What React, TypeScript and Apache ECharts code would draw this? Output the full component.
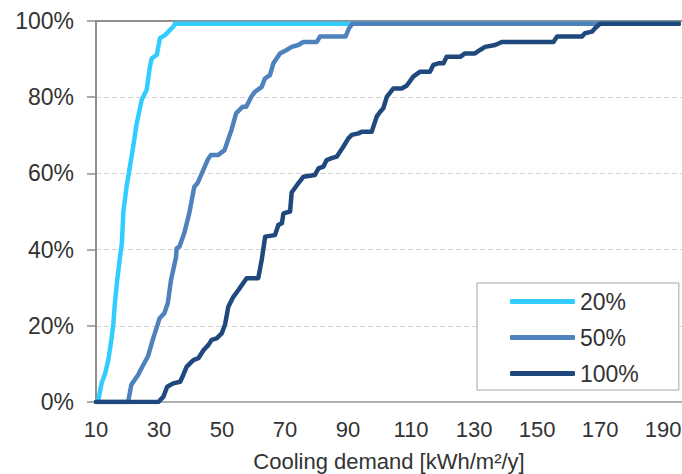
import React, { useEffect, useRef } from "react";
import * as echarts from "echarts";

const SERIES_NAMES = ["20%", "50%", "100%"];
const SERIES_COLORS = ["#33CCFF", "#4F81BD", "#1F497D"];
const X_TICKS = [10, 30, 50, 70, 90, 110, 130, 150, 170, 190];
const Y_TICKS = [0, 20, 40, 60, 80, 100];
const X_TITLE = "Cooling demand [kWh/m²/y]";

// [cooling demand, cumulative share %]
const curve20: [number, number][] = [
  [10, 0], [10.6, 0], [11.8, 5], [12.9, 7.5], [13.9, 11], [15, 17], [15.5, 20.5],
  [16, 26], [16.6, 31], [17.6, 38], [18.2, 41.5], [18.7, 50], [19.7, 56.5],
  [20.8, 62], [21.8, 67], [22.9, 73], [24.5, 79.3], [26.1, 82], [27.1, 88],
  [27.7, 90.2], [29.3, 91.1], [30.3, 95.5], [31.9, 96.3], [33, 97.2],
  [34.5, 98.5], [35.1, 99.3], [195, 99.3],
];

const curve50: [number, number][] = [
  [10, 0], [20.2, 0], [21.2, 4.5], [23.3, 7], [24.4, 8.8], [26.5, 12], [28, 16.3],
  [30.2, 22], [31.7, 23.3], [32.8, 26], [33.8, 32], [35.4, 38], [35.6, 40.3],
  [36.5, 40.8], [38, 44.3], [39.6, 49.5], [41.2, 56.5], [42.2, 57.4], [43.8, 60.4],
  [45.4, 63.5], [46.4, 64.8], [48.7, 64.8], [50.8, 66.1], [51.9, 68.8], [53, 71.4],
  [54.5, 75.8], [56.6, 77.5], [57.7, 77.5], [59.3, 80.1], [60.4, 81.4], [62.6, 82.7],
  [63.6, 84.9], [65.2, 85.8], [66.3, 88.9], [68.4, 91.5], [70.5, 92.4], [72.1, 93.2],
  [74.2, 93.7], [75.8, 94.5], [80.1, 94.5], [81.1, 95.9], [89.2, 95.9], [90.3, 98.1],
  [91.4, 99.3], [195, 99.3],
];

const curve100: [number, number][] = [
  [10, 0], [29.8, 0], [31.4, 1.4], [32.6, 4], [34.5, 4.9], [36.7, 5.3], [37.7, 7.1],
  [38.8, 9.3], [40.9, 11], [42.5, 11.5], [44.1, 13.6], [45.7, 15], [46.7, 16.3],
  [48.3, 16.7], [49.9, 18], [51, 20.5], [52, 25], [53.6, 27.6], [55.2, 29.4],
  [57.8, 32.5], [61.5, 32.5], [62.6, 37.3], [63.7, 43.4], [66.8, 43.8], [67.9, 46.5],
  [69, 46.9], [69.5, 49.5], [71.6, 50], [72.1, 55], [74.2, 57.4], [75.8, 59.1],
  [79.5, 59.6], [80.6, 61.3], [82.2, 61.8], [83.2, 63.5], [84.8, 64], [86.4, 64.4],
  [88.5, 67], [90.1, 69.2], [91.2, 70.1], [93.3, 70.5], [94.3, 70.9], [97.5, 70.9],
  [99.1, 74.9], [100.2, 76.2], [101.2, 77.1], [102.3, 80.1], [104.4, 82.3], [107, 82.3],
  [108.6, 83], [110.7, 85.4], [112.9, 86.7], [116, 86.7], [117.1, 88.5], [118.7, 88.9],
  [120.3, 88.9], [121.3, 90.6], [125.6, 90.6], [127.1, 91.5], [130.3, 91.5],
  [131.9, 92.4], [133.5, 93.2], [136.7, 93.7], [138.8, 94.5], [155.2, 94.5],
  [156.3, 95.9], [164.2, 95.9], [165.2, 96.8], [167.4, 97.2], [168.4, 98.1],
  [170, 99.3], [195, 99.3],
];

const CURVES = [curve20, curve50, curve100];

const FONT = "'Liberation Sans', Arial, sans-serif";
const TEXT_COLOR = "#333333";

export default function App() {
  const ref = useRef<HTMLDivElement>(null);

  useEffect(() => {
    if (!ref.current) return;
    const chart = echarts.init(ref.current, undefined, { renderer: "svg" });
    const xMin = X_TICKS[0];
    const xStep = X_TICKS[1] - X_TICKS[0];
    chart.setOption({
      animation: false,
      backgroundColor: "#ffffff",
      textStyle: { fontFamily: FONT },
      grid: { left: 96, right: 0, top: 21, bottom: 72, containLabel: false, outerBoundsMode: "none" },
      legend: {
        data: SERIES_NAMES,
        orient: "vertical",
        left: 477,
        top: 283,
        padding: [7, 40, 5, 33],
        itemGap: 13,
        itemWidth: 65,
        itemHeight: 5,
        icon: "roundRect",
        borderColor: "#a6a6a6",
        borderWidth: 1,
        backgroundColor: "#ffffff",
        textStyle: { fontSize: 23, color: TEXT_COLOR, fontFamily: FONT },
      },
      xAxis: [
        {
          type: "value",
          min: xMin,
          max: 196,
          interval: xStep,
          name: X_TITLE,
          nameLocation: "middle",
          nameGap: 48,
          nameTextStyle: { fontSize: 22, color: TEXT_COLOR, fontFamily: FONT },
          axisLine: { show: true, lineStyle: { color: "#b0b0b0", width: 2 } },
          axisTick: { show: false },
          axisLabel: {
            fontSize: 22,
            color: TEXT_COLOR,
            fontFamily: FONT,
            margin: 16,
            showMaxLabel: false,
            formatter: (v: number) => (X_TICKS.includes(v) ? String(v) : ""),
          },
          splitLine: { show: false },
        },
        {
          type: "value",
          position: "top",
          min: xMin,
          max: 196,
          axisLine: { show: true, onZero: false, lineStyle: { color: "#8f8f8f", width: 2 } },
          axisTick: { show: false },
          axisLabel: { show: false },
          splitLine: { show: false },
        },
      ],
      yAxis: {
        type: "value",
        min: Y_TICKS[0],
        max: Y_TICKS[Y_TICKS.length - 1],
        interval: Y_TICKS[1] - Y_TICKS[0],
        axisLine: { show: true, lineStyle: { color: "#8f8f8f", width: 2 } },
        axisTick: { show: true, inside: false, length: 9, lineStyle: { color: "#8f8f8f", width: 1.5 } },
        axisLabel: {
          fontSize: 23,
          color: TEXT_COLOR,
          fontFamily: FONT,
          margin: 22,
          formatter: "{value}%",
        },
        splitLine: { show: true, lineStyle: { color: "#d4d4d4", type: [5, 3], width: 1 } },
      },
      series: CURVES.map((data, i) => ({
        name: SERIES_NAMES[i],
        type: "line",
        data,
        showSymbol: false,
        symbol: "none",
        color: SERIES_COLORS[i],
        lineStyle: { color: SERIES_COLORS[i], width: 4.5, cap: "round", join: "round" },
        itemStyle: { color: SERIES_COLORS[i] },
        z: 2 + i,
      })),
    });
    return () => chart.dispose();
  }, []);

  return (
    <div
      ref={ref}
      style={{ position: "fixed", left: 0, top: 0, width: 682, height: 474, background: "#fff" }}
    />
  );
}
